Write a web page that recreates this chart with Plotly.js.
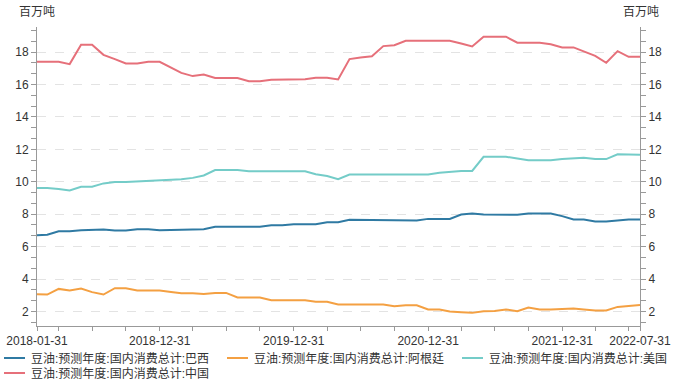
<!DOCTYPE html>
<html>
<head>
<meta charset="utf-8">
<script src="https://cdn.plot.ly/plotly-3.0.1.min.js"></script>
<style>
  html, body { margin: 0; padding: 0; background: #fff; }
  #chart { width: 675px; height: 382px; }
</style>
</head>
<body>
<div id="chart"></div>
<script>
// ---- data (monthly, 2018-01 .. 2022-07, million tonnes) ----
var seriesNames = [
  '豆油:预测年度:国内消费总计:巴西',
  '豆油:预测年度:国内消费总计:阿根廷',
  '豆油:预测年度:国内消费总计:美国',
  '豆油:预测年度:国内消费总计:中国'
];
var brazil = [6.7,6.73,6.95,6.95,7.01,7.01,7.05,6.99,6.99,7.07,7.07,7.01,7.03,7.05,7.07,7.07,7.22,7.22,7.22,7.22,7.22,7.32,7.32,7.38,7.38,7.38,7.5,7.5,7.65,7.65,7.63,7.63,7.61,7.61,7.61,7.71,7.71,7.71,7.98,8.04,7.98,7.96,7.96,7.96,8.04,8.04,8.04,7.88,7.67,7.67,7.55,7.55,7.63,7.67,7.67];
var argentina = [3.06,3.04,3.39,3.29,3.41,3.19,3.04,3.43,3.43,3.29,3.29,3.29,3.2,3.12,3.12,3.08,3.14,3.14,2.86,2.86,2.86,2.69,2.69,2.69,2.69,2.59,2.59,2.43,2.43,2.43,2.43,2.43,2.32,2.38,2.38,2.12,2.12,2.0,1.95,1.91,2.01,2.03,2.12,2.01,2.24,2.12,2.12,2.14,2.18,2.12,2.06,2.06,2.28,2.34,2.39];
var usa = [9.62,9.62,9.56,9.46,9.69,9.69,9.9,9.98,9.98,10.02,10.06,10.06,10.1,10.16,10.24,10.39,10.72,10.72,10.72,10.65,10.65,10.65,10.65,10.65,10.65,10.47,10.36,10.16,10.45,10.45,10.45,10.45,10.45,10.45,10.45,10.45,10.55,10.6,10.67,10.67,11.54,11.54,11.54,11.44,11.33,11.33,11.33,11.4,11.42,11.48,11.4,11.4,11.7,11.7,11.66];
var china = [17.4,17.4,17.4,17.26,18.45,18.45,17.83,17.57,17.3,17.3,17.4,17.4,17.05,16.72,16.52,16.62,16.4,16.4,16.4,16.2,16.2,16.29,16.29,16.29,16.33,16.42,16.42,16.31,17.57,17.67,17.75,18.37,18.43,18.7,18.7,18.7,18.7,18.7,18.53,18.35,18.95,18.95,18.95,18.58,18.58,18.58,18.48,18.29,18.29,18.02,17.77,17.34,18.06,17.71,17.71];
var xTickLabels = ['2018-01-31','2018-12-31','2019-12-31','2020-12-31','2021-12-31','2022-07-31'];
var yTickVals = [2,4,6,8,10,12,14,16,18];
var unitLabel = '百万吨';
var colors = ['#2f7aa3', '#f4a042', '#74ccc8', '#e6707a'];

// month-end dates
var dates = [];
(function () {
  var y = 2018, m = 1;
  while (y < 2022 || (y === 2022 && m <= 7)) {
    var last = new Date(Date.UTC(y, m, 0)).getUTCDate();
    dates.push(y + '-' + (m < 10 ? '0' + m : m) + '-' + last);
    m++; if (m > 12) { m = 1; y++; }
  }
})();
var xMinor = dates.filter(function (d, i) { return i % 3 === 2; });
var yMinor = [];
for (var k = 2; k <= 29; k++) { if (k % 3 !== 0) yMinor.push(k * 2 / 3); }

var allSeries = [brazil, argentina, usa, china];
var traces = allSeries.map(function (vals, i) {
  return {
    type: 'scatter', mode: 'lines', x: dates, y: vals, name: seriesNames[i],
    line: { color: colors[i], width: 2 }, hoverinfo: 'x+y+name', showlegend: false
  };
});
// right-hand mirror axis
traces.push({ type: 'scatter', mode: 'lines', x: [], y: [], yaxis: 'y2', showlegend: false, hoverinfo: 'skip' });

var FONT = 'Liberation Sans, Arial, Noto Sans CJK SC, sans-serif';
var axisColor = '#999';
var yCommon = {
  range: [1.1, 19.55], tickmode: 'array', tickvals: yTickVals,
  showline: true, linecolor: axisColor, linewidth: 1,
  ticks: 'outside', ticklen: 5, tickcolor: axisColor,
  zeroline: false, fixedrange: true,
  tickfont: { size: 12, color: '#333', family: FONT },
  minor: { tickmode: 'array', tickvals: yMinor, ticks: 'outside', ticklen: 5, tickcolor: axisColor, showgrid: false }
};

var W = 603, H = 299, L = 37, T = 27;
function px(x) { return (x - L) / W; }
function py(y) { return (T + H - y) / H; }

var shapes = [], annotations = [];
var legendPos = [ [4, 358], [227, 358], [462, 358], [4, 373] ];
legendPos.forEach(function (p, i) {
  shapes.push({ type: 'line', xref: 'paper', yref: 'paper', x0: px(p[0]), x1: px(p[0] + 21), y0: py(p[1]), y1: py(p[1]),
    line: { color: colors[i], width: 2 } });
  annotations.push({ xref: 'paper', yref: 'paper', x: px(p[0] + 25), y: py(p[1]), xanchor: 'left', yanchor: 'middle',
    text: seriesNames[i], showarrow: false, font: { size: 12, color: '#333', family: FONT } });
});
annotations.push({ xref: 'paper', yref: 'paper', x: px(37), y: py(12), xanchor: 'center', yanchor: 'middle',
  text: unitLabel, showarrow: false, font: { size: 12, color: '#333', family: FONT } });
annotations.push({ xref: 'paper', yref: 'paper', x: px(641), y: py(12), xanchor: 'center', yanchor: 'middle',
  text: unitLabel, showarrow: false, font: { size: 12, color: '#333', family: FONT } });

var layout = {
  width: 675, height: 382,
  margin: { l: L, r: 675 - L - W, t: T, b: 382 - T - H, pad: 0 },
  paper_bgcolor: '#fff', plot_bgcolor: '#fff',
  font: { family: FONT, size: 12, color: '#333' },
  showlegend: false,
  xaxis: {
    type: 'date', range: [dates[0], dates[dates.length - 1]],
    tickmode: 'array', tickvals: xTickLabels, ticktext: xTickLabels,
    showgrid: false, showline: true, linecolor: axisColor, linewidth: 1,
    ticks: 'outside', ticklen: 4, tickcolor: axisColor, zeroline: false, fixedrange: true,
    tickfont: { size: 12, color: '#333', family: FONT },
    minor: { tickmode: 'array', tickvals: xMinor, ticks: 'outside', ticklen: 4, tickcolor: axisColor, showgrid: false },
    automargin: false
  },
  yaxis: Object.assign({}, yCommon, {
    side: 'left', showgrid: true, gridcolor: '#e3e3e3', griddash: 'dash', gridwidth: 1, automargin: false
  }),
  yaxis2: Object.assign({}, yCommon, {
    side: 'right', overlaying: 'y', showgrid: false, automargin: false
  }),
  shapes: shapes,
  annotations: annotations
};

Plotly.newPlot('chart', traces, layout, { displayModeBar: false, staticPlot: true });
</script>
</body>
</html>
